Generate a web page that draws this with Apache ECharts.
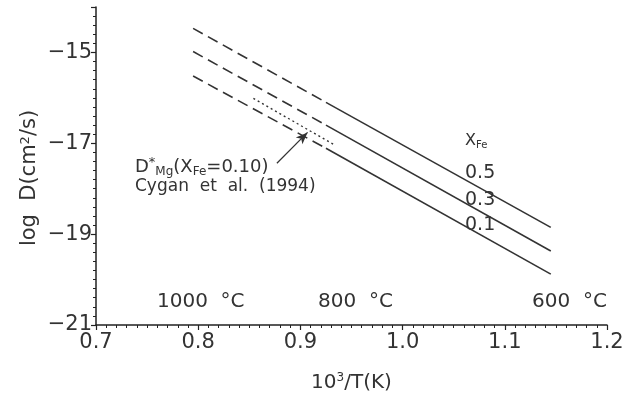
<!DOCTYPE html>
<html>
<head>
<meta charset="utf-8">
<script src="https://cdn.jsdelivr.net/npm/echarts@6/dist/echarts.min.js"></script>
<style>
  html, body { margin: 0; padding: 0; background: #fff; }
  #main { width: 633px; height: 399px; }
</style>
</head>
<body>
<div id="main"></div>
<script>
// x = 10^3/T(K); points at start of dashes, start of solid part, end of line
var xPts = [0.795, 0.925, 1.145];
var xFeLabels = ['0.5', '0.3', '0.1'];
var logD_05 = [-14.47, -16.10, -18.85];
var logD_03 = [-14.98, -16.60, -19.37];
var logD_01 = [-15.52, -17.11, -19.88];
// Cygan et al. (1994), X_Fe = 0.10
var cyganX = [0.854, 0.932];
var cyganY = [-16.01, -17.02];
// arrow from the label to the Cygan line
var arrowFrom = [0.877, -17.44];
var arrowTo = [0.907, -16.76];
var tempLabels = ['1000  °C', '800  °C', '600  °C'];

var FONT = 'DejaVu Sans';
var INK = '#333';

var myChart = echarts.init(document.getElementById('main'));

function dashedPart(ys) {
  return {
    type: 'line', silent: true, symbol: 'none',
    lineStyle: { color: INK, width: 1.6, type: [11, 6] },
    data: [[xPts[0], ys[0]], [xPts[1], ys[1]]]
  };
}
function solidPart(ys) {
  return {
    type: 'line', silent: true, symbol: 'none',
    lineStyle: { color: INK, width: 1.6 },
    data: [[xPts[1], ys[1]], [xPts[2], ys[2]]]
  };
}

var series = [];
[logD_05, logD_03, logD_01].forEach(function (ys) {
  series.push(dashedPart(ys));
  series.push(solidPart(ys));
});
series.push({
  type: 'line', silent: true, symbol: 'none',
  lineStyle: { color: INK, width: 1.4, type: [2, 3] },
  data: [[cyganX[0], cyganY[0]], [cyganX[1], cyganY[1]]],
  markLine: {
    silent: true,
    symbol: ['none', 'arrow'],
    symbolSize: [7, 12],
    label: { show: false },
    lineStyle: { color: INK, width: 1.2, type: 'solid' },
    data: [[{ coord: arrowFrom }, { coord: arrowTo }]]
  }
});

var subStyle = { fontSize: 12, fontFamily: FONT, fill: INK, padding: [9, 0, 0, 0] };
var supStyle = { fontSize: 13, fontFamily: FONT, fill: INK, padding: [0, 0, 9, 0] };

var graphics = [
  {
    type: 'text', x: 30, y: 178, rotation: Math.PI / 2,
    style: {
      text: 'log  D(cm{sup|2}/s)', fontSize: 21, fontFamily: FONT, fill: INK,
      align: 'center', verticalAlign: 'middle',
      rich: { sup: supStyle }
    }
  },
  {
    type: 'text', x: 135, y: 167,
    style: {
      text: 'D{sup|*}{sub|Mg}(X{sub|Fe}=0.10)', fontSize: 18, fontFamily: FONT, fill: INK,
      verticalAlign: 'middle',
      rich: { sup: supStyle, sub: subStyle }
    }
  },
  {
    type: 'text', x: 135, y: 187,
    style: { text: 'Cygan  et  al.  (1994)', fontSize: 17, fontFamily: FONT, fill: INK, verticalAlign: 'middle' }
  },
  {
    type: 'text', x: 465, y: 141,
    style: {
      text: 'X{sub|Fe}', fontSize: 16, fontFamily: FONT, fill: INK, verticalAlign: 'middle',
      rich: { sub: { fontSize: 10, fontFamily: FONT, fill: INK, padding: [8, 0, 0, 0] } }
    }
  }
];
var xFeY = [173, 200, 225];
xFeLabels.forEach(function (t, i) {
  graphics.push({
    type: 'text', x: 465, y: xFeY[i],
    style: { text: t, fontSize: 19, fontFamily: FONT, fill: INK, verticalAlign: 'middle' }
  });
});
var tempX = [157, 318, 532];
tempLabels.forEach(function (t, i) {
  graphics.push({
    type: 'text', x: tempX[i], y: 302,
    style: { text: t, fontSize: 20, fontFamily: FONT, fill: INK, verticalAlign: 'middle' }
  });
});

var option = {
  backgroundColor: '#fff',
  animation: false,
  grid: { left: 96, right: 26, top: 7, bottom: 74 },
  xAxis: {
    type: 'value', min: 0.7, max: 1.2, interval: 0.1,
    name: '10{sup|3}/T(K)', nameLocation: 'middle', nameGap: 47,
    nameTextStyle: { fontSize: 20, fontFamily: FONT, color: INK, rich: { sup: { fontSize: 12, fontFamily: FONT, color: INK, padding: [0, 0, 9, 0] } } },
    axisLine: { lineStyle: { color: '#222', width: 1.5 } },
    axisTick: { length: 5, lineStyle: { color: '#222', width: 1.2 } },
    minorTick: { show: true, splitNumber: 10, length: 3, lineStyle: { color: '#222', width: 1 } },
    splitLine: { show: false },
    axisLabel: {
      fontSize: 21, fontFamily: FONT, color: INK, margin: 7,
      formatter: function (v) { return v.toFixed(1); }
    }
  },
  yAxis: {
    type: 'value', min: -21, max: -14, interval: 2,
    axisLine: { lineStyle: { color: '#222', width: 1.5 } },
    axisTick: { length: 5, lineStyle: { color: '#222', width: 1.2 } },
    minorTick: { show: true, splitNumber: 10, length: 3, lineStyle: { color: '#222', width: 1 } },
    splitLine: { show: false },
    axisLabel: {
      fontSize: 21, fontFamily: FONT, color: INK, margin: 4, showMaxLabel: false,
      formatter: function (v) { return v < 0 ? '\u2212' + Math.abs(v) : String(v); }
    }
  },
  graphic: graphics,
  series: series
};

myChart.setOption(option);
</script>
</body>
</html>
